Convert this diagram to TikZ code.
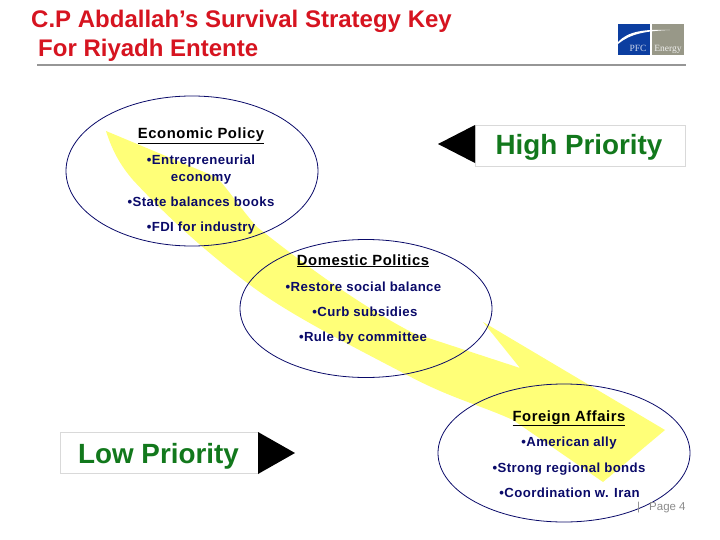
\documentclass[tikz,border=0pt]{standalone}
\usepackage{fontspec}
\setmainfont{Liberation Sans}
\newfontfamily\logofont{Liberation Serif}
\usetikzlibrary{shapes.geometric}
\definecolor{titlered}{RGB}{214,20,32}
\definecolor{bandyellow}{RGB}{255,255,120}
\definecolor{bodynavy}{RGB}{10,10,105}
\definecolor{prioritygreen}{RGB}{18,120,28}
\definecolor{rulegray}{RGB}{150,150,150}
\definecolor{logoblue}{RGB}{12,62,160}
\definecolor{logogray}{RGB}{152,152,136}
\tikzset{
  titletext/.style={anchor=base west,inner sep=0pt,text=titlered,font=\fontsize{24}{26}\selectfont\bfseries},
  headtext/.style={anchor=base,inner sep=0pt,font=\fontsize{14.8}{16}\selectfont\bfseries\addfontfeature{LetterSpace=4}},
  bodytext/.style={anchor=base,inner sep=0pt,text=bodynavy,font=\fontsize{13.2}{15}\selectfont\bfseries\addfontfeature{LetterSpace=3}},
  topic/.style={draw=bodynavy,line width=0.8pt,ellipse,inner sep=0pt,minimum width=252pt},
  prioritybox/.style={draw=black!15,fill=white,inner sep=0pt,minimum width=#1,minimum height=41pt},
  prioritytext/.style={anchor=base,inner sep=0pt,text=prioritygreen,font=\fontsize{27.8}{30}\selectfont\bfseries},
}
\begin{document}
\begin{tikzpicture}[x=1pt,y=-1pt]
    \useasboundingbox (0,0) rectangle (720,540);%

    \fill[bandyellow] (106,131) -- (216,177) .. controls (226,186) and (240,208) .. (257,227)
      .. controls (290,253) and (350,300) .. (413,333)
      -- (520,368) -- (483,322) -- (665,430) -- (603,482)
      -- (513,420) .. controls (480,405) and (450,398) .. (407,375)
      .. controls (350,345) and (290,315) .. (250,285)
      .. controls (210,255) and (170,220) .. (133,180)
      .. controls (120,165) and (112,150) .. (106,131) -- cycle;%

    \node[topic,minimum height=150pt] (economy) at (192,171) {};%
    \node[topic,minimum height=138pt] (politics) at (366,308.5) {};%
    \node[topic,minimum height=138pt] (foreign) at (564,453) {};%

    \node[titletext] (title1) at (31,28) {C.P Abdallah’s Survival Strategy Key};%
    \node[titletext] (title2) at (38,57) {For Riyadh Entente};%
    \draw[rulegray,line width=1.6pt] (37,65) -- (686,65);%

    % logo
    \fill[logoblue] (618,24) rectangle (650,55);%
    \fill[logogray] (652,24) rectangle (684,55);%
    \fill[white] (618,42) .. controls (628,31) and (645,29) .. (670,30)
      .. controls (645,31) and (630,34) .. (618,44) -- cycle;%
    \node[anchor=base,inner sep=0pt,text=white!80!logoblue,font=\logofont\fontsize{9.5}{10}\selectfont] (pfc) at (638,52) {PFC};%
    \node[anchor=base,inner sep=0pt,text=white!85!logogray,font=\logofont\fontsize{9.5}{10}\selectfont] (energy) at (668,52) {Energy};%

    \node[headtext] (econhead) at (201,139) {\underline{Economic Policy}};%
    \node[bodytext] (econ1) at (201,165) {•Entrepreneurial};%
    \node[bodytext] (econ2) at (201,182) {economy};%
    \node[bodytext] (econ3) at (201,207) {•State balances books};%
    \node[bodytext] (econ4) at (201,232) {•FDI for industry};%

    \node[headtext] (polhead) at (363,265) {\underline{Domestic Politics}};%
    \node[bodytext] (pol1) at (363.5,291) {•Restore social balance};%
    \node[bodytext] (pol2) at (365,316) {•Curb subsidies};%
    \node[bodytext] (pol3) at (363,341) {•Rule by committee};%

    \node[headtext] (forhead) at (569,421) {\underline{Foreign Affairs}};%
    \node[bodytext] (for1) at (569,446) {•American ally};%
    \node[bodytext] (for2) at (569,472) {•Strong regional bonds};%
    \node[bodytext] (for3) at (569.5,497) {•Coordination w. Iran};%

    \node[prioritybox=210pt] (highbox) at (580,145.5) {};%
    \node[prioritytext] (high) at (579,155) {High Priority};%
    \fill (475,125) -- (438,144) -- (475,163) -- cycle;%

    \node[prioritybox=198pt] (lowbox) at (159,453) {};%
    \node[prioritytext] (low) at (158.5,463) {Low Priority};%
    \fill (258,432) -- (295,453) -- (258,474) -- cycle;%

    \node[anchor=base west,inner sep=0pt,text=black!45,font=\fontsize{11.5}{12}\selectfont] (page) at (637,510) {|\hspace{9pt}Page 4};%
  \end{tikzpicture}
\end{document}
